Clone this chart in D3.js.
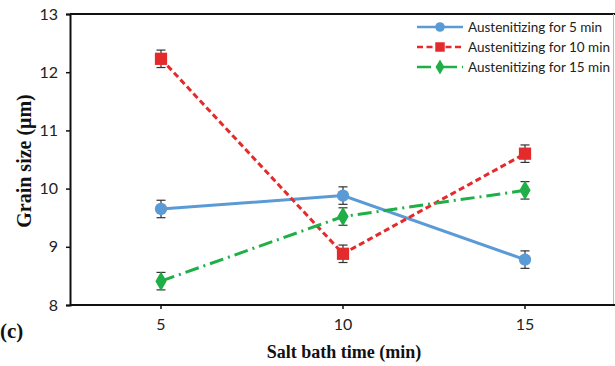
<!doctype html>
<html>
<head>
<script src="https://cdnjs.cloudflare.com/ajax/libs/d3/7.8.5/d3.min.js"></script>
<style>
  body { margin: 0; background: #fff; }
  .tick text { font-family: Lato, "Open Sans", sans-serif; font-size: 16px; fill: #222; }
  .axis-title { font-family: "Liberation Serif", serif; font-weight: bold; font-size: 18px; fill: #111; }
  .legend text { font-family: Lato, "Open Sans", sans-serif; font-size: 13.5px; fill: #222; }
</style>
</head>
<body>
<svg id="chart" width="615" height="366"></svg>
<script>
// data
var times = ["5", "10", "15"];
var series5 = [9.65, 9.88, 8.78];
var series10 = [12.23, 8.88, 10.6];
var series15 = [8.41, 9.52, 9.97];
var err5 = [0.15, 0.15, 0.15];
var err10 = [0.15, 0.15, 0.15];
var err15 = [0.15, 0.15, 0.15];
var seriesNames = ["Austenitizing for 5 min", "Austenitizing for 10 min", "Austenitizing for 15 min"];
var yTicks = [8, 9, 10, 11, 12, 13];

var svg = d3.select("#chart");
var plotL = 70, plotR = 616, plotT = 14, plotB = 305;

var x = d3.scaleBand().domain(times).range([plotL, plotR]);
var y = d3.scaleLinear().domain([8, 13]).range([plotB, plotT]);
var xc = d => x(d) + x.bandwidth() / 2;

// frame
svg.append("line").attr("x1", plotL).attr("x2", 615).attr("y1", plotT).attr("y2", plotT)
  .attr("stroke", "#111").attr("stroke-width", 2);
svg.append("line").attr("x1", 613.5).attr("x2", 613.5).attr("y1", plotT).attr("y2", plotB)
  .attr("stroke", "#bbb").attr("stroke-width", 1);

// axes
var yAxis = svg.append("g").attr("transform", "translate(" + plotL + ",0)")
  .call(d3.axisLeft(y).tickValues(yTicks).tickFormat(d3.format("d")).tickSize(4).tickPadding(8));
var xAxis = svg.append("g").attr("transform", "translate(0," + plotB + ")")
  .call(d3.axisBottom(x).tickSize(4).tickPadding(10));
[yAxis, xAxis].forEach(function(a) {
  a.select(".domain").attr("stroke", "#111").attr("stroke-width", 2);
  a.selectAll(".tick line").attr("stroke", "#111").attr("stroke-width", 1.5);
});
xAxis.select(".domain").attr("d", "M" + plotL + ",0H615");

// titles
svg.append("text").attr("class", "axis-title").attr("x", 344).attr("y", 358)
  .attr("text-anchor", "middle").text("Salt bath time (min)");
svg.append("text").attr("class", "axis-title")
  .attr("transform", "translate(31,161) rotate(-90)")
  .attr("text-anchor", "middle").style("font-size", "20px").text("Grain size (μm)");
svg.append("text").attr("class", "axis-title").attr("x", 0).attr("y", 338)
  .style("font-size", "21px").text("(c)");

var styles = [
  { values: series5, err: err5, color: "#5B9BD5", dash: null, shape: d3.symbolCircle, size: 120 },
  { values: series10, err: err10, color: "#E42A2A", dash: "6,3.5", shape: d3.symbolSquare, size: 150 },
  { values: series15, err: err15, color: "#1EAF47", dash: "14,5,2,5", shape: d3.symbolDiamond, size: 110 }
];

var line = d3.line().x((d, i) => xc(times[i])).y(d => y(d));

styles.forEach(function(s) {
  svg.append("path").datum(s.values).attr("d", line)
    .attr("fill", "none").attr("stroke", s.color).attr("stroke-width", 3)
    .attr("stroke-dasharray", s.dash);
});

styles.forEach(function(s) {
  var g = svg.append("g");
  s.values.forEach(function(v, i) {
    var cx = xc(times[i]);
    var y1 = y(v + s.err[i]), y2 = y(v - s.err[i]);
    g.append("line").attr("x1", cx).attr("x2", cx).attr("y1", y1).attr("y2", y2)
      .attr("stroke", "#333").attr("stroke-width", 1.2);
    [y1, y2].forEach(function(yy) {
      g.append("line").attr("x1", cx - 4.5).attr("x2", cx + 4.5).attr("y1", yy).attr("y2", yy)
        .attr("stroke", "#333").attr("stroke-width", 1.2);
    });
    g.append("path").attr("d", d3.symbol().type(s.shape).size(s.size)())
      .attr("transform", "translate(" + cx + "," + y(v) + ")")
      .attr("fill", s.color);
  });
});

// legend
var legend = svg.append("g").attr("class", "legend");
styles.forEach(function(s, i) {
  var ly = 27 + i * 20;
  legend.append("line").attr("x1", 417).attr("x2", 463).attr("y1", ly).attr("y2", ly)
    .attr("stroke", s.color).attr("stroke-width", 2.5).attr("stroke-dasharray", s.dash);
  legend.append("path").attr("d", d3.symbol().type(s.shape).size(s.size * 0.6)())
    .attr("transform", "translate(440," + ly + ")").attr("fill", s.color);
  legend.append("text").attr("x", 468).attr("y", ly).attr("dy", "0.35em").text(seriesNames[i]);
});
</script>
</body>
</html>
